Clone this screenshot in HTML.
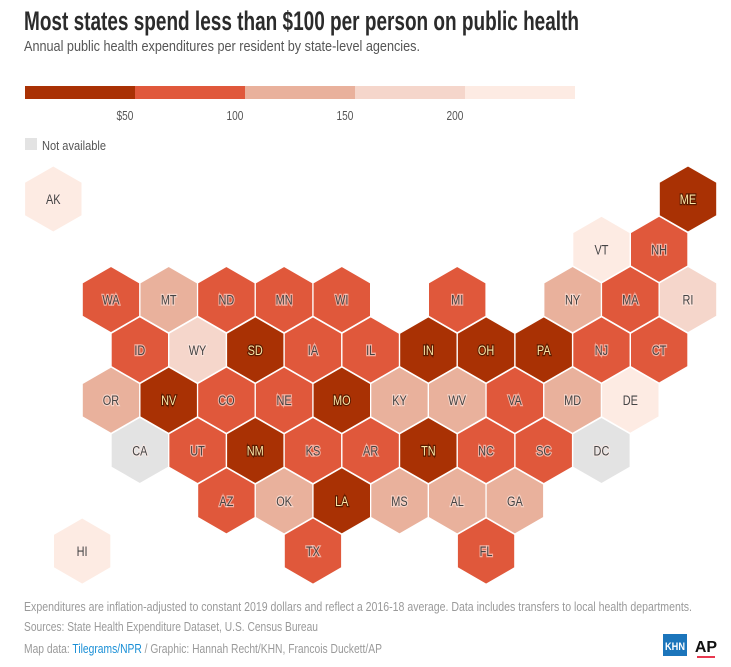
<!DOCTYPE html>
<html><head><meta charset="utf-8">
<style>
body{margin:0;background:#fff;width:731px;height:667px;overflow:hidden;font-family:"Liberation Sans Narrow","Liberation Sans",sans-serif;}
svg{display:block}
</style></head>
<body>
<svg id="c" width="731" height="667">
<text x="24" y="30" font-size="27" font-weight="bold" fill="#2b2b2b" textLength="555" lengthAdjust="spacingAndGlyphs">Most states spend less than $100 per person on public health</text>
<text x="24" y="51" font-size="15" fill="#555" textLength="396" lengthAdjust="spacingAndGlyphs">Annual public health expenditures per resident by state-level agencies.</text>
<g id="legend"></g>
<rect x="25" y="138" width="12" height="12" fill="#e3e3e3"/>
<text x="42" y="150" font-size="13" fill="#555" textLength="64" lengthAdjust="spacingAndGlyphs">Not available</text>
<g id="map"></g>
<g font-size="12.5" fill="#9a9a9a">
<text x="24" y="611" textLength="668" lengthAdjust="spacingAndGlyphs">Expenditures are inflation-adjusted to constant 2019 dollars and reflect a 2016-18 average. Data includes transfers to local health departments.</text>
<text x="24" y="631" textLength="294" lengthAdjust="spacingAndGlyphs">Sources: State Health Expenditure Dataset, U.S. Census Bureau</text>
<text x="24" y="653" textLength="358" lengthAdjust="spacingAndGlyphs">Map data: <tspan fill="#1a8fd6">Tilegrams/NPR</tspan> / Graphic: Hannah Recht/KHN, Francois Duckett/AP</text>
</g>
<rect x="663" y="634" width="24" height="22" fill="#1b75bb"/>
<text x="675" y="650" font-size="11" font-weight="bold" fill="#fff" text-anchor="middle" textLength="20" lengthAdjust="spacingAndGlyphs">KHN</text>
<text x="706" y="652" font-size="16" font-weight="bold" fill="#111" text-anchor="middle">AP</text>
<rect x="697" y="656" width="18" height="2" fill="#e8384f"/>
</svg>
<script>
const states=["AK","ME","VT","NH","WA","MT","ND","MN","WI","MI","NY","MA","RI","ID","WY","SD","IA","IL","IN","OH","PA","NJ","CT","OR","NV","CO","NE","MO","KY","WV","VA","MD","DE","CA","UT","NM","KS","AR","TN","NC","SC","DC","AZ","OK","LA","MS","AL","GA","HI","TX","FL"];
const values=[230,40,225,75,75,125,75,75,75,75,125,75,175,75,175,40,75,75,40,40,40,75,75,125,40,75,75,40,125,125,75,125,225,null,75,40,75,75,40,75,75,null,75,125,40,125,125,125,225,75,75];
const gridCol=[-1,10,8.5,9.5,0,1,2,3,4,6,8,9,10,0.5,1.5,2.5,3.5,4.5,5.5,6.5,7.5,8.5,9.5,0,1,2,3,4,5,6,7,8,9,0.5,1.5,2.5,3.5,4.5,5.5,6.5,7.5,8.5,2,3,4,5,6,7,-0.5,3.5,6.5];
const gridRow=[0,0,1,1,2,2,2,2,2,2,2,2,2,3,3,3,3,3,3,3,3,3,3,4,4,4,4,4,4,4,4,4,4,5,5,5,5,5,5,5,5,5,6,6,6,6,6,6,7,7,7];
const thresholds=[50,100,150,200];
const legendTicks=["$50","100","150","200"];
const colors=["#a93104","#e0583b","#e9b19c","#f5d6cb","#fdebe3"];
const NS="http://www.w3.org/2000/svg";
function el(t,a,p){const e=document.createElementNS(NS,t);for(const k in a)e.setAttribute(k,a[k]);p.appendChild(e);return e;}
function bin(v){if(v==null)return -1;let i=0;while(i<thresholds.length&&v>=thresholds[i])i++;return i;}
const xScale=c=>111+c*57.7, yScale=r=>199+r*50.3, R=33.2, SX=0.78;
const lg=document.getElementById('legend');
const segW=110;
colors.forEach((c,i)=>{const r=el('rect',{x:25+i*segW,y:86,width:segW,height:13,fill:c},lg);

});
legendTicks.forEach((t,i)=>{const tx=el('text',{x:(25+(i+1)*segW-10)/SX,y:120,'font-size':13,fill:'#555','text-anchor':'middle',transform:'scale('+SX+',1)'},lg);tx.textContent=t;

});
const map=document.getElementById('map');
states.forEach((s,i)=>{const cx=xScale(gridCol[i]),cy=yScale(gridRow[i]);const b=bin(values[i]);
let pts=[];for(let k=0;k<6;k++){const a=Math.PI/180*(60*k-90);pts.push((cx+R*Math.cos(a)).toFixed(1)+','+(cy+R*Math.sin(a)).toFixed(1));}
const g=el('g',{},map);


el('polygon',{points:pts.join(' '),fill:b<0?'#e3e3e3':colors[b],stroke:'#fff','stroke-width':1.2},g);
const dark=b===0;
const t=el('text',{x:cx/SX,y:cy+5,'font-size':14,'text-anchor':'middle',transform:'scale('+SX+',1)',fill:dark?'#fbe7a6':'#444',stroke:dark?'#5a1a00':'rgba(255,235,230,0.6)','stroke-width':2.5,'paint-order':'stroke'},g);
t.textContent=s;


});
</script>
</body></html>
